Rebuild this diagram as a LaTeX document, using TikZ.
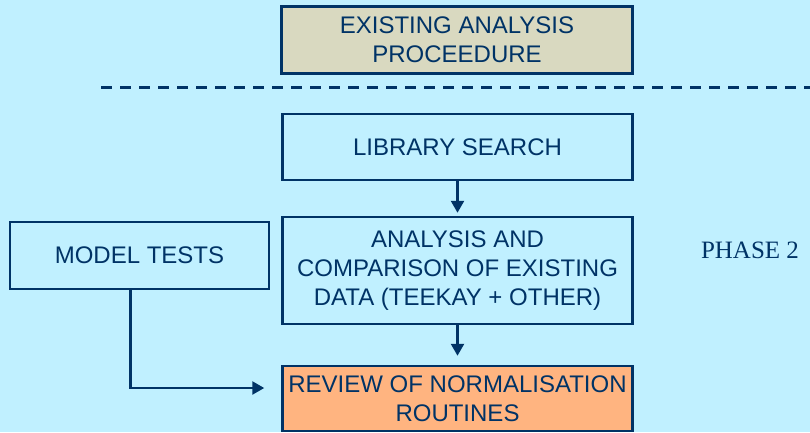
\documentclass[tikz,border=0pt]{standalone}
\usepackage{fontspec}
\setmainfont{Liberation Sans}
\newfontfamily\phasefont{Liberation Serif}
\usetikzlibrary{arrows.meta,calc}
\definecolor{BackClr}{RGB}{192,240,255}
\definecolor{LineClr}{RGB}{0,51,102}
\definecolor{OldClr}{RGB}{217,217,192}
\definecolor{ReviewClr}{RGB}{255,180,128}

\begin{document}
\begin{tikzpicture}[x=1pt,y=-1pt,
  box/.style={draw=LineClr,line width=2.5pt,fill=BackClr,text=LineClr,align=center,
    inner sep=0pt,minimum width=350pt,font=\fontsize{24}{29}\selectfont},
  link/.style={draw=LineClr,line width=2.5pt,-{Triangle[width=13pt,length=12pt]}}]
\fill[BackClr] (0,0) rectangle (810,432);
\useasboundingbox (0,0) rectangle (810,432);

\node[box,fill=OldClr,line width=3pt,minimum width=351pt,minimum height=67pt] (exist) at (457,39.5) {EXISTING ANALYSIS\\PROCEEDURE};
\draw[LineClr,line width=3pt,dash pattern=on 11pt off 8pt] (101,87.5) -- (810,87.5);

\node[box,minimum height=66pt] (library) at (457.5,147) {LIBRARY SEARCH};
\node[box,minimum height=107pt] (analysis) at (457.5,270.5) {ANALYSIS AND\\COMPARISON OF EXISTING\\DATA (TEEKAY + OTHER)};
\node[box,minimum width=259pt,minimum height=67pt] (model) at (139.5,255.5) {MODEL TESTS};
\node[box,fill=ReviewClr,minimum height=65pt] (review) at (457.5,398.5) {REVIEW OF NORMALISATION\\ROUTINES};

\node[text=LineClr,font=\phasefont\fontsize{25}{30}\selectfont] (phase) at (750,250) {PHASE 2};

\draw[link,shorten >=3pt] (library) -- (analysis);
\draw[link,shorten >=9pt] (analysis) -- (review);
\draw[link,shorten >=17pt] ($(model.south)+(-9,0)$) |- ($(review.west)+(0,-10.5)$);

\end{tikzpicture}
\end{document}
